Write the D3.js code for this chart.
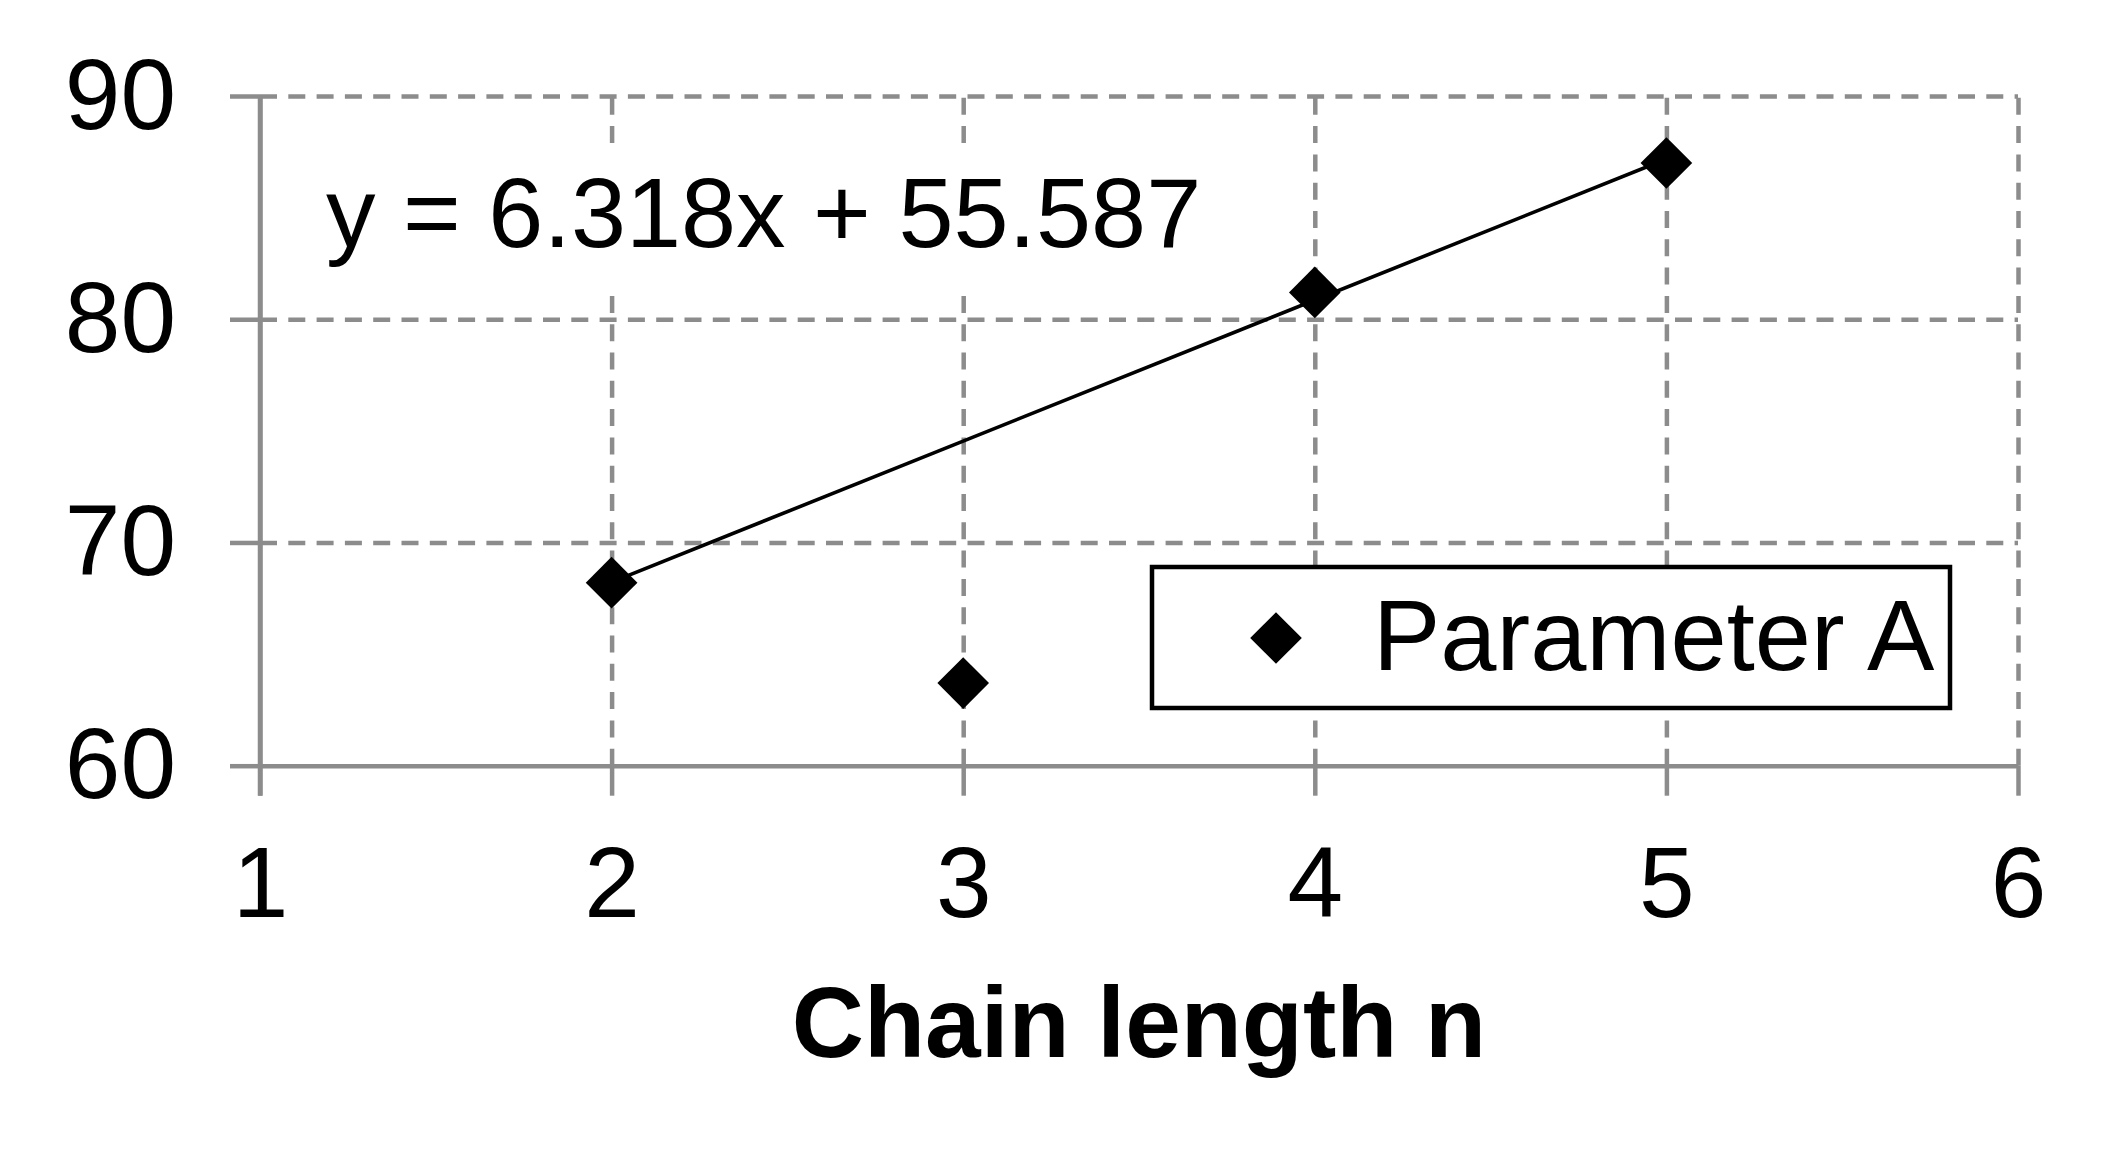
<!DOCTYPE html>
<html>
<head>
<meta charset="utf-8">
<script src="https://cdn.jsdelivr.net/npm/d3@7"></script>
<style>
  html, body { margin: 0; padding: 0; background: #fff; }
  svg { display: block; }
  text { font-family: "Liberation Sans", Arial, sans-serif; }
</style>
</head>
<body>
<svg id="chart" width="2106" height="1157"></svg>
<script>
// ---- data ----
const xValues = [2, 3, 4, 5];
const yValues = [68.2, 63.7, 81.2, 87.0];
const seriesName = "Parameter A";
const trendSlope = 6.318;
const trendIntercept = 55.587;
const trendRange = [2, 5];
const equationLabel = "y = 6.318x + 55.587";
const xTicks = [1, 2, 3, 4, 5, 6];
const yTicks = [60, 70, 80, 90];
const xTitle = "Chain length n";

// ---- layout ----
const W = 2106, H = 1157;
const pLeft = 260, pRight = 2018, pTop = 96, pBottom = 765.7;
const gridColor = "#8c8c8c";
const fs = 100;

const svg = d3.select("#chart");
svg.append("rect").attr("width", W).attr("height", H).attr("fill", "#fff");

const x = d3.scaleLinear().domain([1, 6]).range([pLeft, pRight]);
const y = d3.scaleLinear().domain([60, 90]).range([pBottom, pTop]);

// horizontal gridlines (dashed)
const gy = svg.append("g").attr("transform", `translate(${pLeft},0)`)
  .call(d3.axisLeft(y).tickValues(yTicks.filter(v => v !== 60)).tickSize(-(pRight - pLeft)).tickFormat(""));
gy.select(".domain").remove();
gy.selectAll("line").attr("stroke", gridColor).attr("stroke-width", 4.5).attr("stroke-dasharray", "17,11.3");

// vertical gridlines (dashed)
const gx = svg.append("g").attr("transform", `translate(0,${pBottom})`)
  .call(d3.axisBottom(x).tickValues(xTicks.filter(v => v !== 1)).tickSize(-(pBottom - pTop)).tickFormat(""));
gx.select(".domain").remove();
gx.selectAll("line").attr("stroke", gridColor).attr("stroke-width", 4.5).attr("stroke-dasharray", "17,11.3");

// y axis
const ay = svg.append("g").attr("transform", `translate(${pLeft},0)`)
  .call(d3.axisLeft(y).tickValues(yTicks).tickSize(30).tickSizeOuter(0).tickPadding(54).tickFormat(d3.format("d")));
ay.select(".domain").attr("stroke", gridColor).attr("stroke-width", 4.5);
ay.selectAll("line").attr("stroke", gridColor).attr("stroke-width", 4.5);
ay.selectAll("text").attr("font-size", fs).attr("fill", "#000")
  .attr("font-family", '"Liberation Sans", Arial, sans-serif');

// x axis
const ax = svg.append("g").attr("transform", `translate(0,${pBottom})`)
  .call(d3.axisBottom(x).tickValues(xTicks).tickSize(30).tickSizeOuter(0).tickFormat(d3.format("d")));
ax.select(".domain").attr("stroke", gridColor).attr("stroke-width", 4.5);
ax.selectAll("line").attr("stroke", gridColor).attr("stroke-width", 4.5);
ax.selectAll("text").attr("font-size", fs).attr("fill", "#000")
  .attr("font-family", '"Liberation Sans", Arial, sans-serif')
  .attr("dy", null).attr("y", 917 - pBottom);
// extend y axis line down to the x=1 tick end
svg.append("line").attr("x1", x(1)).attr("x2", x(1)).attr("y1", y(90)).attr("y2", pBottom + 30)
  .attr("stroke", gridColor).attr("stroke-width", 4.5);

// equation label with white background
svg.append("rect").attr("x", 312).attr("y", 143).attr("width", 1222 - 312).attr("height", 288 - 143)
  .attr("fill", "#fff");
svg.append("text").attr("x", 326).attr("y", 246.5).attr("font-size", 99).attr("fill", "#000")
  .text(equationLabel);

// trend line
const trendData = trendRange.map(v => [v, trendSlope * v + trendIntercept]);
svg.append("path").datum(trendData)
  .attr("d", d3.line().x(d => x(d[0])).y(d => y(d[1])))
  .attr("fill", "none").attr("stroke", "#000").attr("stroke-width", 3.6);

// points
const diamond = d3.symbol().type(d3.symbolDiamond2).size(1700);
svg.append("g").selectAll("path").data(xValues.map((v, i) => [v, yValues[i]]))
  .join("path")
  .attr("d", diamond)
  .attr("transform", d => `translate(${x(d[0])},${y(d[1])})`)
  .attr("fill", "#000");

// legend
const lg = svg.append("g");
lg.append("rect").attr("x", 1152).attr("y", 567).attr("width", 1950 - 1152).attr("height", 708 - 567)
  .attr("fill", "#fff").attr("stroke", "#000").attr("stroke-width", 4.5);
lg.append("path").attr("d", diamond).attr("transform", "translate(1276,638)").attr("fill", "#000");
lg.append("text").attr("x", 1373).attr("y", 670).attr("font-size", 101).attr("fill", "#000").text(seriesName);

// x title
svg.append("text").attr("x", (pLeft + pRight) / 2).attr("y", 1056.5).attr("text-anchor", "middle")
  .attr("font-size", 100).attr("font-weight", "bold").attr("fill", "#000").text(xTitle);
</script>
</body>
</html>
